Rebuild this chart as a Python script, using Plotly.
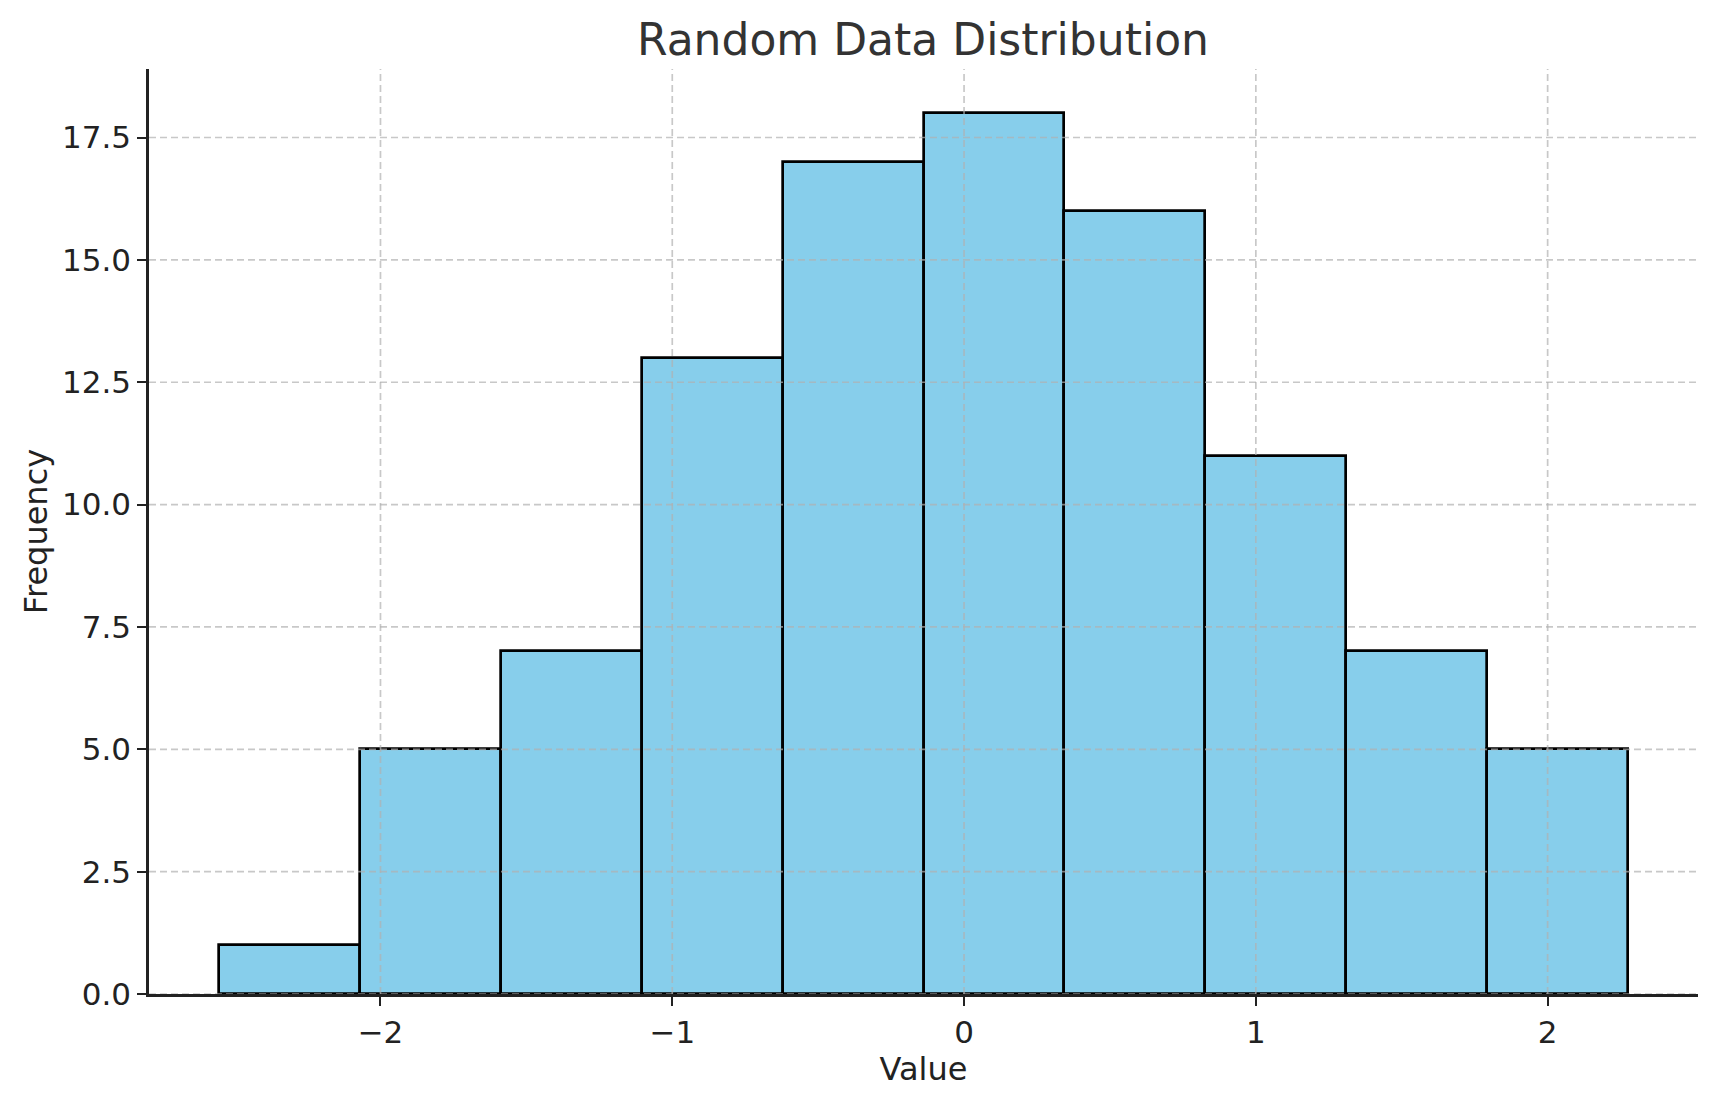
import plotly.graph_objects as go

# histogram: 10 bins of 100 samples
bin_edges = [-2.552, -2.069, -1.587, -1.104, -0.621, -0.139, 0.344, 0.826, 1.309, 1.792, 2.274]
counts = [1, 5, 7, 13, 17, 18, 16, 11, 7, 5]

x_ticks = [-2, -1, 0, 1, 2]
x_tick_labels = ["\u22122", "\u22121", "0", "1", "2"]
y_ticks = [0, 2.5, 5, 7.5, 10, 12.5, 15, 17.5]

centers = [(a + b) / 2 for a, b in zip(bin_edges[:-1], bin_edges[1:])]
widths = [b - a for a, b in zip(bin_edges[:-1], bin_edges[1:])]

# matplotlib-like 5% margins
span = bin_edges[-1] - bin_edges[0]
x_range = [bin_edges[0] - 0.05 * span, bin_edges[-1] + 0.05 * span]
y_range = [0, max(counts) * 1.05]

fig = go.Figure()
fig.add_trace(go.Bar(
    x=centers, y=counts, width=widths,
    marker=dict(color="#87CEEB", line=dict(color="black", width=2.7)),
    hoverinfo="x+y",
))

# dashed grid drawn on top of the bars, as in the original
grid = dict(color="rgba(176,176,176,0.7)", width=1.7, dash="7px,4px")
for xv in x_ticks:
    fig.add_shape(type="line", xref="x", yref="paper", x0=xv, x1=xv, y0=0, y1=1,
                  line=grid, layer="above")
for yv in y_ticks:
    fig.add_shape(type="line", xref="paper", yref="y", x0=0, x1=1, y0=yv, y1=yv,
                  line=grid, layer="above")

font_ticks = dict(family="DejaVu Sans", size=31, color="#222222")
font_label = dict(family="DejaVu Sans", size=32, color="#222222")

# page body has an 8px margin, so the figure is a bit smaller than the window
W, H = 1702, 1085

fig.update_layout(
    width=W, height=H, autosize=False,
    margin=dict(l=141, r=12, t=61, b=99),
    plot_bgcolor="white", paper_bgcolor="white",
    showlegend=False, bargap=0,
    title=dict(text="Random Data Distribution", x=915 / W, xanchor="center",
               y=1 - 32 / H, yanchor="middle", yref="container",
               font=dict(family="DejaVu Sans", size=44, color="#333333")),
    xaxis=dict(range=x_range, tickvals=x_ticks, ticktext=x_tick_labels,
               showgrid=False, zeroline=False,
               showline=True, linecolor="#222222", linewidth=2.5,
               ticks="outside", ticklen=9, tickwidth=2, tickcolor="#222222",
               tickfont=font_ticks,
               title=dict(text="Value", standoff=1, font=font_label)),
    yaxis=dict(range=y_range, tickvals=y_ticks, tickformat=".1f",
               showgrid=False, zeroline=False,
               showline=True, linecolor="#222222", linewidth=2.5,
               ticks="outside", ticklen=9, tickwidth=2, tickcolor="#222222",
               tickfont=font_ticks,
               title=dict(text="Frequency", standoff=5, font=font_label)),
)

fig.write_html("out.html")
print("saved out.html")
